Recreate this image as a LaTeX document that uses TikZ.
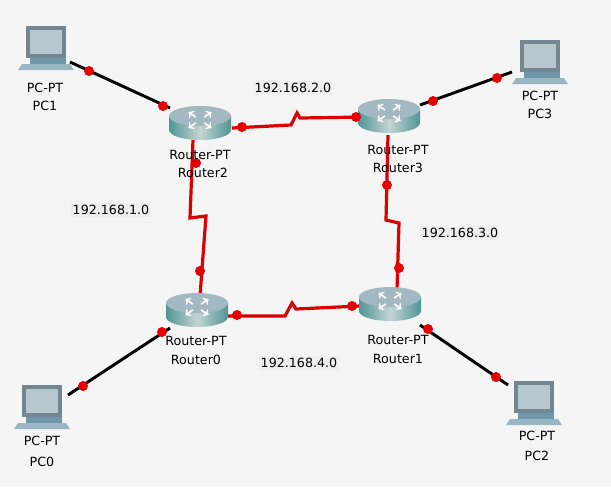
\documentclass[tikz,border=0pt]{standalone}
\usepackage{fontspec}
\setmainfont{DejaVu Sans}
\begin{document}
\begin{tikzpicture}[x=0.75pt,y=-0.75pt,
  lbl/.style={font=\fontsize{9.5}{10}\selectfont, align=center, inner sep=0.5pt},
  net/.style={font=\fontsize{9.5}{10}\selectfont, fill=blue!4!gray!12, inner sep=1.5pt},
  eth/.style={line width=2.2pt, black},
  ser/.style={line width=2.4pt, red!85!black},
  dot/.style={circle, fill=red!90!black, inner sep=0pt, minimum size=7.5pt},
  router/.pic={
    \shade[left color=cyan!30!gray!90!black, right color=cyan!30!gray!90!black, middle color=cyan!15!gray!40] (-31,-4) -- (-31,10) arc[start angle=180,end angle=0,x radius=31,y radius=10] -- (31,-4) -- cycle;
    \fill[cyan!25!gray!70] (0,-4) ellipse[x radius=31, y radius=10];
    \foreach \a in {35,145,215,325} \draw[white, line width=1.3pt, ->] (\a:{5}) -- ++(\a:{9});
  },
  pc/.pic={
    \fill[cyan!30!gray!80!black] (-20,-20) rectangle (20,12);
    \fill[cyan!20!gray!55] (-16,-16) rectangle (16,8);
    \fill[cyan!40!gray!90!black] (-16,12) rectangle (20,18);
    \fill[cyan!30!gray!75] (-24,18) -- (24,18) -- (28,24) -- (-28,24) -- cycle;
  }]
\useasboundingbox[fill=gray!8] (0,0) rectangle (611,487);
% icons
\pic at (46,46) {pc}; \pic at (540,60) {pc}; \pic at (42,405) {pc}; \pic at (534,401) {pc};
% links
\draw[eth] (70,62) -- (170,108);
\draw[eth] (420,105) -- (512,72);
\draw[eth] (170,328) -- (68,395);
\draw[eth] (420,325) -- (508,385);
\draw[ser] (232,128) -- (291,125) -- (297,113) -- (300,118) -- (365,117);
\draw[ser] (193,140) -- (190,218) -- (206,216) -- (200,296);
\draw[ser] (388,135) -- (386,220) -- (399,223) -- (397,290);
\draw[ser] (228,316) -- (285,316) -- (292,303) -- (296,309) -- (360,306);
\pic at (200,120) {router}; \pic at (389,113) {router};
\pic at (197,307) {router}; \pic at (390,301) {router};
% dots
\foreach \p [count=\i] in {(89,71),(163,106),(242,127),(356,117),(196,163),(200,271),(387,185),(399,268),(237,315),(352,306),(162,332),(83,386),(428,329),(496,377),(433,101),(497,78)}
  \node[dot] (d\i) at \p {};
% labels
\node[lbl] (l1) at (45,88) {PC-PT}; \node[lbl] (l2) at (45,106) {PC1};
\node[lbl] (l3) at (540,96) {PC-PT}; \node[lbl] (l4) at (540,114) {PC3};
\node[lbl] (l5) at (42,441) {PC-PT}; \node[lbl] (l6) at (42,462) {PC0};
\node[lbl] (l7) at (537,436) {PC-PT}; \node[lbl] (l8) at (537,456) {PC2};
\node[lbl] (r1) at (200,155) {Router-PT}; \node[lbl] (r2) at (203,173) {Router2};
\node[lbl] (r3) at (398,150) {Router-PT}; \node[lbl] (r4) at (398,168) {Router3};
\node[lbl] (r5) at (196,341) {Router-PT}; \node[lbl] (r6) at (196,360) {Router0};
\node[lbl] (r7) at (398,340) {Router-PT}; \node[lbl] (r8) at (398,359) {Router1};
\node[net] (n1) at (293,88) {192.168.2.0};
\node[net] (n2) at (111,210) {192.168.1.0};
\node[net] (n3) at (460,233) {192.168.3.0};
\node[net] (n4) at (299,363) {192.168.4.0};
\end{tikzpicture}
\end{document}
